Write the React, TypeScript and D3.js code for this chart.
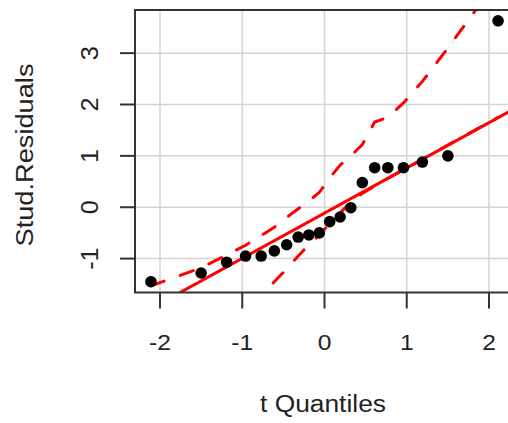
import React, { useRef, useEffect } from 'react';
import * as d3 from 'd3';

// t quantiles (x) and sorted studentized residuals (y)
const tQuantiles = [-2.11, -1.5, -1.19, -0.96, -0.77, -0.61, -0.46, -0.32, -0.19, -0.063, 0.063, 0.19, 0.32, 0.46, 0.61, 0.77, 0.96, 1.19, 1.5, 2.11];
const studResiduals = [-1.45, -1.28, -1.07, -0.95, -0.95, -0.85, -0.73, -0.58, -0.54, -0.5, -0.28, -0.19, -0.01, 0.48, 0.77, 0.77, 0.77, 0.88, 1.0, 3.63];

// simulated confidence envelope
const upperEnvelope = [-1.53, -1.18, -0.93, -0.74, -0.55, -0.39, -0.2, -0.03, 0.12, 0.29, 0.57, 0.82, 1.0, 1.22, 1.66, 1.75, 2.03, 2.45, 3.1, 4.43];
const lowerEnvelope = [-4.2, -3.1, -2.5, -2.1, -1.73, -1.45, -1.2, -0.95, -0.73, -0.54, -0.32, -0.11, 0.1, 0.27, 0.41, 0.56, 0.73, 0.93, 1.21, 1.75];

// reference line
const lineIntercept = -0.115;
const lineSlope = 0.88;

const xTicks = [-2, -1, 0, 1, 2];
const yTicks = [-1, 0, 1, 2, 3];

const W = 508;
const H = 423;
const box = { left: 135, right: 514, top: 10, bottom: 292.5 };

const QQPlot = () => {
  const svgRef = useRef<SVGSVGElement | null>(null);

  useEffect(() => {
    if (!svgRef.current) return;
    const svg = d3.select(svgRef.current);
    svg.selectAll('*').remove();

    const x = d3.scaleLinear().domain([-2.304, 2.304]).range([box.left, box.right]);
    const y = d3.scaleLinear().domain([-1.66, 3.84]).range([box.bottom, box.top]);

    svg.append('defs').append('clipPath').attr('id', 'plotClip')
      .append('rect')
      .attr('x', box.left).attr('y', box.top)
      .attr('width', box.right - box.left).attr('height', box.bottom - box.top);

    // grid
    const grid = svg.append('g').attr('stroke', '#d4d4d4').attr('stroke-width', 1.5);
    xTicks.forEach(t => {
      grid.append('line').attr('x1', x(t)).attr('x2', x(t)).attr('y1', box.top).attr('y2', box.bottom);
    });
    yTicks.forEach(t => {
      grid.append('line').attr('x1', box.left).attr('x2', box.right).attr('y1', y(t)).attr('y2', y(t));
    });

    const plot = svg.append('g').attr('clip-path', 'url(#plotClip)');

    const envLine = d3.line<number>()
      .x((_, i) => x(tQuantiles[i]))
      .y(d => y(d));

    // reference line
    plot.append('line')
      .attr('x1', x(-2.304)).attr('y1', y(lineIntercept + lineSlope * -2.304))
      .attr('x2', x(2.304)).attr('y2', y(lineIntercept + lineSlope * 2.304))
      .attr('stroke', '#ff0000').attr('stroke-width', 3);

    [upperEnvelope, lowerEnvelope].forEach(env => {
      plot.append('path')
        .attr('d', envLine(env))
        .attr('fill', 'none')
        .attr('stroke', '#ff0000')
        .attr('stroke-width', 3)
        .attr('stroke-linecap', 'round')
        .attr('stroke-dasharray', '14,17');
    });

    plot.selectAll('circle')
      .data(tQuantiles)
      .enter()
      .append('circle')
      .attr('cx', d => x(d))
      .attr('cy', (_, i) => y(studResiduals[i]))
      .attr('r', 5.8)
      .attr('fill', '#000');

    // box
    svg.append('rect')
      .attr('x', box.left).attr('y', box.top)
      .attr('width', box.right - box.left).attr('height', box.bottom - box.top)
      .attr('fill', 'none').attr('stroke', '#333').attr('stroke-width', 2);

    const font = 'Liberation Sans, Arial, sans-serif';

    // x axis
    const xAxis = svg.append('g');
    xTicks.forEach(t => {
      xAxis.append('line')
        .attr('x1', x(t)).attr('x2', x(t)).attr('y1', box.bottom).attr('y2', box.bottom + 16)
        .attr('stroke', '#333').attr('stroke-width', 2);
      xAxis.append('text')
        .attr('transform', `translate(${x(t)},350) scale(1.12,1)`)
        .attr('text-anchor', 'middle')
        .attr('font-family', font).attr('font-size', 22).attr('fill', '#222')
        .text(t);
    });

    // y axis
    const yAxis = svg.append('g');
    yTicks.forEach(t => {
      yAxis.append('line')
        .attr('x1', box.left - 15).attr('x2', box.left).attr('y1', y(t)).attr('y2', y(t))
        .attr('stroke', '#333').attr('stroke-width', 2);
      yAxis.append('text')
        .attr('transform', `translate(98,${y(t)}) rotate(-90) scale(1.1,1)`)
        .attr('text-anchor', 'middle')
        .attr('font-family', font).attr('font-size', 23).attr('fill', '#222')
        .text(t);
    });

    svg.append('text')
      .attr('x', 323).attr('y', 412)
      .attr('text-anchor', 'middle')
      .attr('font-family', font).attr('font-size', 23).attr('fill', '#222')
      .attr('textLength', 126).attr('lengthAdjust', 'spacingAndGlyphs')
      .text('t Quantiles');

    svg.append('text')
      .attr('transform', `translate(33,155) rotate(-90)`)
      .attr('text-anchor', 'middle')
      .attr('font-family', font).attr('font-size', 23).attr('fill', '#222')
      .attr('textLength', 183).attr('lengthAdjust', 'spacingAndGlyphs')
      .text('Stud.Residuals');
  }, []);

  return (
    <svg
      ref={svgRef}
      width={W}
      height={H}
      style={{ position: 'absolute', left: 0, top: 0, background: '#fff' }}
    />
  );
};

export default function App() {
  return <QQPlot />;
}
